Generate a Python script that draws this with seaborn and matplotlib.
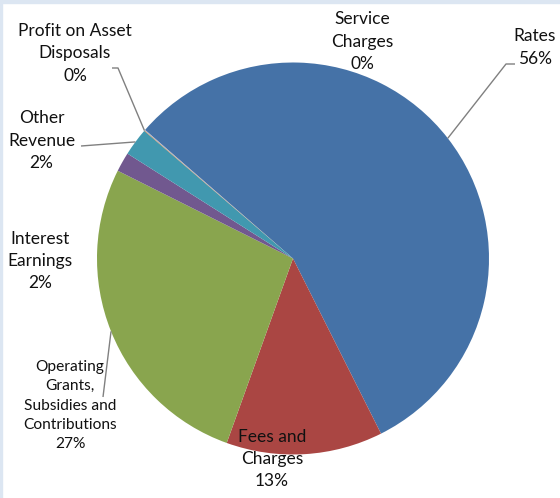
import numpy as np
import matplotlib
matplotlib.use("Agg")
import matplotlib.pyplot as plt
import seaborn as sns

# Revenue mix by source
categories = [
    "Rates",
    "Fees and Charges",
    "Operating Grants, Subsidies and Contributions",
    "Interest Earnings",
    "Other Revenue",
    "Profit on Asset Disposals",
    "Service Charges",
]
shares = [56.2, 12.9, 26.9, 1.6, 2.3, 0.05, 0.05]
label_lines = [
    ["Rates"],
    ["Fees and", "Charges"],
    ["Operating", "Grants,", "Subsidies and", "Contributions"],
    ["Interest", "Earnings"],
    ["Other", "Revenue"],
    ["Profit on Asset", "Disposals"],
    ["Service", "Charges"],
]
colors = ["#4572A7", "#AA4643", "#89A54E", "#71588F", "#4198AF", "#DB843D", "#93A9CF"]

sns.set_theme(style="white")
plt.rcParams["font.family"] = ["Lato", "DejaVu Sans"]

W, H = 560, 498
fig = plt.figure(figsize=(W / 100, H / 100), dpi=100)
ax = fig.add_axes([0, 0, 1, 1])


def py(y):
    """Convert a top-down pixel row to axis y."""
    return H - y


cx, cy, r = 293, 258.5, 196
wedges, _ = ax.pie(
    shares, colors=colors, startangle=139, counterclock=False,
    center=(cx, py(cy)), radius=r, frame=True,
    wedgeprops=dict(linewidth=0),
)
ax.set_xlim(0, W)
ax.set_ylim(0, H)
ax.set_aspect("equal")
ax.axis("off")


def edge_point(w):
    mid = np.deg2rad((w.theta1 + w.theta2) / 2)
    return cx + r * np.cos(mid), py(cy) + r * np.sin(mid)


# label block centres (x, top-down y), font size, line spacing
label_pos = {
    0: (535, 47.5, 12.5, 1.55),
    1: (272, 459, 12.5, 1.5),
    2: (70, 405.5, 11.2, 1.5),
    3: (40, 261, 12.5, 1.5),
    4: (41.5, 140.5, 12.5, 1.5),
    5: (75, 53, 12.5, 1.5),
    6: (362, 41.5, 12.5, 1.5),
}
for i, (x, y, fs, ls) in label_pos.items():
    pct = f"{round(shares[i]):.0f}%"
    txt = "\n".join(label_lines[i] + [pct])
    ax.text(x, py(y), txt, ha="center", va="center", fontsize=fs,
            linespacing=ls, color="#111111")

line_kw = dict(color="#808080", linewidth=1.0, solid_capstyle="butt")
# leader lines: (wedge index, bend points drawn from the label side)
leaders = {
    0: [(515, 64), (506, 64)],
    5: [(112, 68), (118, 68)],
    4: [(81, 146)],
    2: [(103, 397)],
}
for i, pts in leaders.items():
    ex, ey = edge_point(wedges[i])
    xs = [p[0] for p in pts] + [ex]
    ys = [py(p[1]) for p in pts] + [ey]
    ax.plot(xs, ys, **line_kw)

# thin light-blue frame along top and left edges
band = "#DCE6F2"
fig.patches.append(plt.Rectangle((0, 1 - 3 / H), 1, 3 / H, transform=fig.transFigure,
                                 color=band, zorder=10))
fig.patches.append(plt.Rectangle((0, 0), 2 / W, 1, transform=fig.transFigure,
                                 color=band, zorder=10))

fig.savefig("out.png", dpi=100, facecolor="white")
